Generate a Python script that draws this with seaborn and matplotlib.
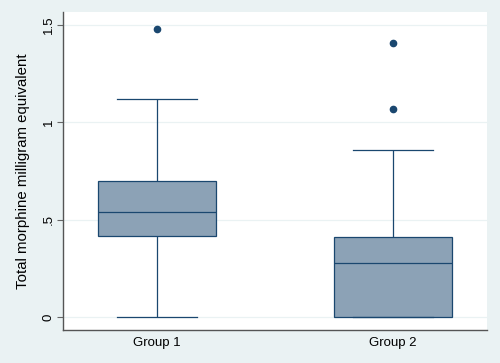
import matplotlib
matplotlib.use("Agg")
import matplotlib.pyplot as plt
import seaborn as sns
import pandas as pd

# values (min, quartiles, whisker ends, outliers)
group1 = [0, 0.2, 0.33, 0.415, 0.47, 0.51, 0.541, 0.6, 0.66, 0.70, 0.85, 1.118, 1.48]
group2 = [0, 0, 0, 0, 0.12, 0.21, 0.276, 0.33, 0.38, 0.409, 0.859, 1.07, 1.406]
groups = ["Group 1", "Group 2"]
yticks = [0, 0.5, 1, 1.5]
ytick_labels = ["0", ".5", "1", "1.5"]

df = pd.DataFrame({
    "group": [groups[0]] * len(group1) + [groups[1]] * len(group2),
    "mme": group1 + group2,
})

bg = "#eaf2f3"
navy = "#1a476f"
fill = "#8ca2b6"

plt.rcParams["font.family"] = ["Liberation Sans", "DejaVu Sans"]

fig = plt.figure(figsize=(5, 3.63), dpi=100, facecolor=bg)
ax = fig.add_axes([0.126, 0.091, 0.848, 0.876])
ax.set_facecolor("white")

sns.boxplot(data=df, x="group", y="mme", order=groups, width=0.5,
            color=fill, linecolor=navy, linewidth=0.9, saturation=1,
            whis=1.5, capwidths=0.34,
            flierprops=dict(marker="o", markerfacecolor=navy,
                            markeredgecolor=navy, markersize=4.5),
            ax=ax)

ax.set_xlim(-0.4, 1.4)
ax.set_ylim(-0.067, 1.567)
ax.set_yticks(yticks)
ax.set_yticklabels(ytick_labels, rotation=90, va="center")
ax.yaxis.grid(True, color=bg, linewidth=0.9)
ax.set_axisbelow(True)
ax.tick_params(axis="y", length=4, width=0.8, color="#666666", labelsize=9.5, pad=2)
ax.tick_params(axis="x", length=0, labelsize=9.5, pad=5)
for s in ["top", "right"]:
    ax.spines[s].set_visible(False)
for s in ["left", "bottom"]:
    ax.spines[s].set_color("#555555")
    ax.spines[s].set_linewidth(1)
ax.set_xlabel("")
ax.set_ylabel("Total morphine milligram equivalent", fontsize=10.8, labelpad=9)

fig.savefig("out.png", dpi=100, facecolor=bg)
